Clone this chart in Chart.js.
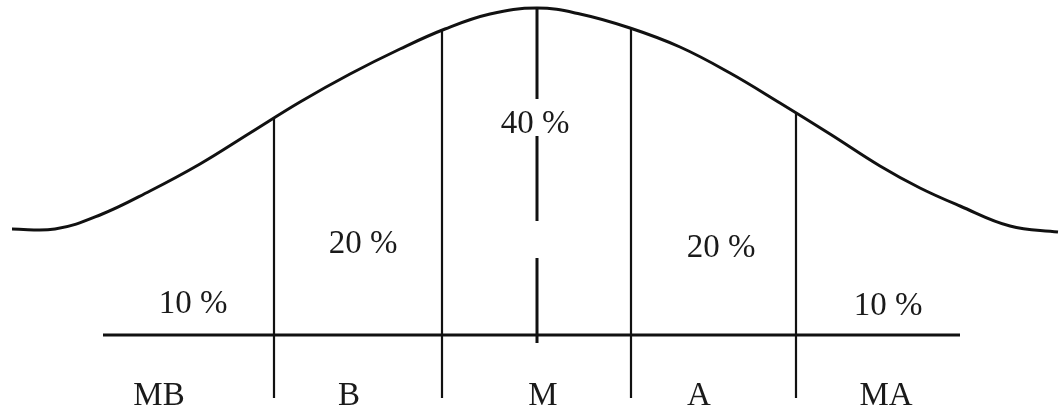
<!DOCTYPE html>
<html>
<head>
<meta charset="utf-8">
<script src="https://cdn.jsdelivr.net/npm/chart.js@4.4.1/dist/chart.umd.min.js"></script>
<style>
  html, body { margin: 0; padding: 0; background: #fff; }
  #wrap { width: 1060px; height: 411px; }
</style>
</head>
<body>
<div id="wrap"><canvas id="c" width="1060" height="411"></canvas></div>
<script>
// Bell curve (x position, height)
const curveX = [12, 55, 100, 150, 200, 250, 300, 350, 400, 445, 490, 537, 580, 630, 680, 730, 780, 830, 880, 920, 960, 1010, 1058];
const curveY = [182, 182, 196, 220, 247, 278, 309, 337, 362, 382, 397, 403, 397, 383, 364, 338, 308, 277, 245, 223, 205, 185, 179];

// Solid dividers between groups
const dividerX = [274, 442, 631, 796];
const dividerTop = [293, 381, 383, 299];
const dividerBottom = 13;

// Dashed centre line (mean) segments
const centreX = 537;
const centreSegments = [[403, 312], [275, 190], [153, 68]];

// Base line
const baseStart = 103;
const baseEnd = 960;
const baseY = 76;

// Percentage labels
const pctLabels = ["10 %", "20 %", "40 %", "20 %", "10 %"];
const pctX = [193, 363, 535, 721, 888];
const pctY = [98, 158, 278, 154, 96];

// Category labels
const catLabels = ["MB", "B", "M", "A", "MA"];
const catX = [159, 349, 543, 699, 886];
const catY = 6;

const ink = '#111';

const datasets = [];
datasets.push({
  data: curveX.map((x, i) => ({ x: x, y: curveY[i] })),
  borderColor: ink, borderWidth: 3, tension: 0.4, pointRadius: 0, fill: false
});
dividerX.forEach((x, i) => {
  datasets.push({
    data: [{ x: x, y: dividerTop[i] }, { x: x, y: dividerBottom }],
    borderColor: ink, borderWidth: 2.2, pointRadius: 0, tension: 0
  });
});
const centreData = [];
centreSegments.forEach((s, i) => {
  if (i > 0) centreData.push({ x: centreX, y: null });
  centreData.push({ x: centreX, y: s[0] });
  centreData.push({ x: centreX, y: s[1] });
});
datasets.push({
  data: centreData, borderColor: ink, borderWidth: 3, pointRadius: 0, spanGaps: false, tension: 0
});
datasets.push({
  data: [{ x: baseStart, y: baseY }, { x: baseEnd, y: baseY }],
  borderColor: ink, borderWidth: 3, pointRadius: 0, tension: 0
});

const labelPlugin = {
  id: 'labels',
  afterDatasetsDraw(chart) {
    const ctx = chart.ctx;
    const xs = chart.scales.x, ys = chart.scales.y;
    ctx.save();
    ctx.fillStyle = '#1a1a1a';
    ctx.font = '33px "Liberation Serif", "DejaVu Serif", serif';
    ctx.textAlign = 'center';
    ctx.textBaseline = 'alphabetic';
    pctLabels.forEach((t, i) => {
      ctx.fillText(t, xs.getPixelForValue(pctX[i]), ys.getPixelForValue(pctY[i]));
    });
    catLabels.forEach((t, i) => {
      ctx.fillText(t, xs.getPixelForValue(catX[i]), ys.getPixelForValue(catY));
    });
    ctx.restore();
  }
};

new Chart(document.getElementById('c'), {
  type: 'line',
  data: { datasets: datasets },
  options: {
    responsive: false,
    animation: false,
    layout: { padding: 0 },
    plugins: { legend: { display: false }, tooltip: { enabled: false } },
    scales: {
      x: { type: 'linear', min: 0, max: 1060, display: false },
      y: { type: 'linear', min: 0, max: 411, display: false }
    }
  },
  plugins: [labelPlugin]
});
</script>
</body>
</html>
